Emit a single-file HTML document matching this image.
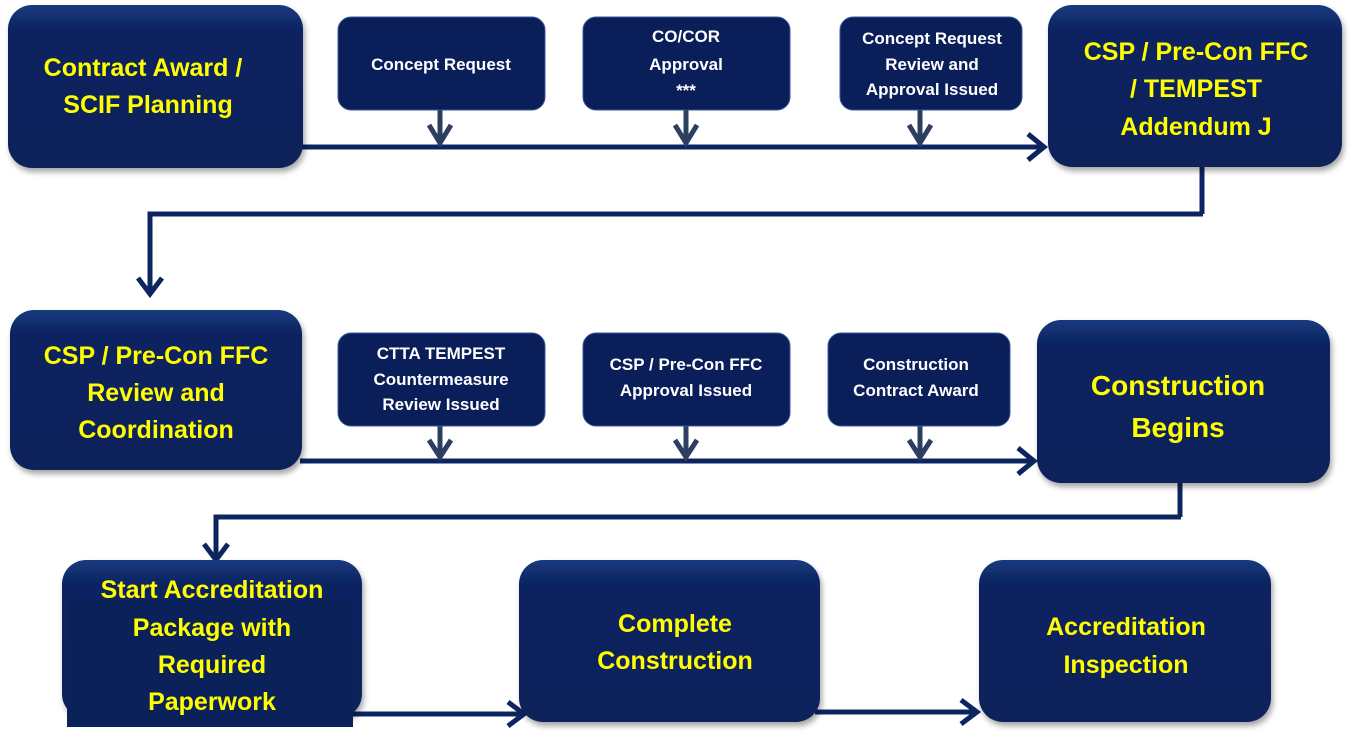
<!DOCTYPE html>
<html><head><meta charset="utf-8"><style>
html,body{margin:0;padding:0;background:#fff;width:1351px;height:744px;overflow:hidden}
svg text{font-family:"Liberation Sans",sans-serif;font-weight:bold;text-anchor:middle}
.b{fill:#ffff00;font-size:25px}
.s{fill:#fff;font-size:17px}
</style></head><body>
<svg width="1351" height="744" viewBox="0 0 1351 744" xmlns="http://www.w3.org/2000/svg">
<defs>
<linearGradient id="g" x1="0" y1="0" x2="0" y2="1">
<stop offset="0" stop-color="#183a80"/><stop offset="0.15" stop-color="#0c2460"/><stop offset="1" stop-color="#0a2159"/>
</linearGradient>
<filter id="sh" x="-10%" y="-10%" width="130%" height="130%"><feDropShadow dx="2" dy="4" stdDeviation="3" flood-color="#000" flood-opacity="0.35"/></filter>
</defs>
<g stroke="#0c2460" stroke-width="5" fill="none" stroke-linejoin="miter">
<!-- row1 -->
<line x1="300" y1="147" x2="1042" y2="147"/>
<polyline points="1028,134 1044,147 1028,160"/>
<line x1="1202" y1="166" x2="1202" y2="214"/>
<polyline points="1203,214 150,214 150,292"/>
<polyline points="138,278 150,294 162,278"/>
<!-- row2 -->
<line x1="300" y1="461" x2="1032" y2="461"/>
<polyline points="1018,448 1034,461 1018,474"/>
<line x1="1180" y1="482" x2="1180" y2="517"/>
<polyline points="1181,517 216,517 216,558"/>
<polyline points="204,544 216,560 228,544"/>
<!-- row3 -->
<line x1="350" y1="714" x2="522" y2="714"/>
<polyline points="508,702 524,714 508,726"/>
<line x1="815" y1="712" x2="975" y2="712"/>
<polyline points="961,700 977,712 961,724"/>
</g>
<g stroke="#2c3f60" stroke-width="5" fill="none">
<line x1="440" y1="110" x2="440" y2="143"/><polyline points="429,125 440,143 451,125"/>
<line x1="686" y1="110" x2="686" y2="143"/><polyline points="675,125 686,143 697,125"/>
<line x1="920" y1="110" x2="920" y2="143"/><polyline points="909,125 920,143 931,125"/>
<line x1="440" y1="426" x2="440" y2="457"/><polyline points="429,440 440,457 451,440"/>
<line x1="686" y1="426" x2="686" y2="457"/><polyline points="675,440 686,457 697,440"/>
<line x1="920" y1="426" x2="920" y2="457"/><polyline points="909,440 920,457 931,440"/>
</g>
<g fill="url(#g)" filter="url(#sh)">
<rect x="8" y="5" width="295" height="163" rx="24"/>
<rect x="1048" y="5" width="294" height="162" rx="24"/>
<rect x="10" y="310" width="292" height="160" rx="24"/>
<rect x="1037" y="320" width="293" height="163" rx="24"/>
<rect x="62" y="560" width="300" height="158" rx="24"/>
<rect x="519" y="560" width="301" height="162" rx="24"/>
<rect x="979" y="560" width="292" height="162" rx="24"/>
</g>
<rect x="67" y="600" width="286" height="127" fill="#0a2159"/>
<g fill="#0a1f5a" stroke="#3a5a9a" stroke-width="1">
<rect x="338" y="17" width="207" height="93" rx="13"/>
<rect x="583" y="17" width="207" height="93" rx="13"/>
<rect x="840" y="17" width="182" height="93" rx="13"/>
<rect x="338" y="333" width="207" height="93" rx="13"/>
<rect x="583" y="333" width="207" height="93" rx="13"/>
<rect x="828" y="333" width="182" height="93" rx="13"/>
</g>
<text class="b" x="143" y="76">Contract Award /</text>
<text class="b" x="148" y="113">SCIF Planning</text>
<text class="b" x="1196" y="60">CSP / Pre-Con FFC</text>
<text class="b" x="1196" y="97">/ TEMPEST</text>
<text class="b" x="1196" y="135">Addendum J</text>
<text class="b" x="156" y="364">CSP / Pre-Con FFC</text>
<text class="b" x="156" y="401">Review and</text>
<text class="b" x="156" y="438">Coordination</text>
<text class="b" x="1178" y="395" style="font-size:28px">Construction</text>
<text class="b" x="1178" y="437" style="font-size:28px">Begins</text>
<text class="b" x="212" y="598">Start Accreditation</text>
<text class="b" x="212" y="636">Package with</text>
<text class="b" x="212" y="673">Required</text>
<text class="b" x="212" y="710">Paperwork</text>
<text class="b" x="675" y="632">Complete</text>
<text class="b" x="675" y="669">Construction</text>
<text class="b" x="1126" y="635">Accreditation</text>
<text class="b" x="1126" y="673">Inspection</text>
<text class="s" x="441" y="70">Concept Request</text>
<text class="s" x="686" y="42">CO/COR</text>
<text class="s" x="686" y="70">Approval</text>
<text class="s" x="686" y="96">***</text>
<text class="s" x="932" y="44">Concept Request</text>
<text class="s" x="932" y="70">Review and</text>
<text class="s" x="932" y="95">Approval Issued</text>
<text class="s" x="441" y="359">CTTA TEMPEST</text>
<text class="s" x="441" y="385">Countermeasure</text>
<text class="s" x="441" y="410">Review Issued</text>
<text class="s" x="686" y="370">CSP / Pre-Con  FFC</text>
<text class="s" x="686" y="396">Approval Issued</text>
<text class="s" x="916" y="370">Construction</text>
<text class="s" x="916" y="396">Contract Award</text>
</svg>
</body></html>
